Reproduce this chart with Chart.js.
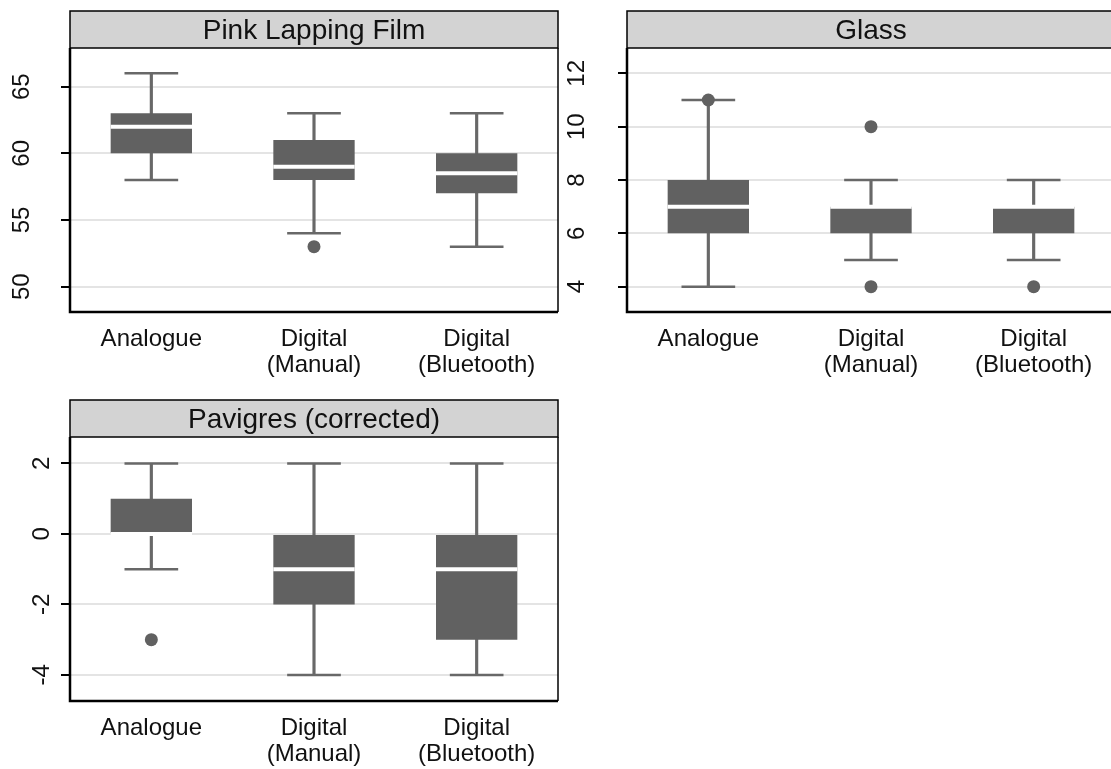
<!DOCTYPE html>
<html>
<head>
<meta charset="utf-8">
<script src="https://cdn.jsdelivr.net/npm/chart.js@4.4.1/dist/chart.umd.min.js"></script>
<style>
  body { margin: 0; background: #fff; width: 1111px; height: 769px; overflow: hidden; position: relative; }
  .panel { position: absolute; }
</style>
</head>
<body>
<div class="panel" style="left:0;top:0"><canvas id="pink"></canvas></div>
<div class="panel" style="left:557px;top:0"><canvas id="glass"></canvas></div>
<div class="panel" style="left:0;top:389px"><canvas id="pavigres"></canvas></div>
<script>
const categories = [['Analogue'], ['Digital', '(Manual)'], ['Digital', '(Bluetooth)']];

// Pink Lapping Film
const pinkLow = [58, 54, 53];
const pinkQ1 = [60, 58, 57];
const pinkMedian = [62, 59, 58.5];
const pinkQ3 = [63, 61, 60];
const pinkHigh = [66, 63, 63];
const pinkOutliers = [[], [53], []];
const pinkTicks = [50, 55, 60, 65];

// Glass
const glassLow = [4, 5, 5];
const glassQ1 = [6, 6, 6];
const glassMedian = [7, 7, 7];
const glassQ3 = [8, 7, 7];
const glassHigh = [11, 8, 8];
const glassOutliers = [[11], [10, 4], [4]];
const glassTicks = [4, 6, 8, 10, 12];

// Pavigres (corrected)
const pavLow = [-1, -4, -4];
const pavQ1 = [0, -2, -3];
const pavMedian = [0, -1, -1];
const pavQ3 = [1, 0, 0];
const pavHigh = [2, 2, 2];
const pavOutliers = [[-3], [], []];
const pavTicks = [-4, -2, 0, 2];

const FONT = '"Liberation Sans", Arial, sans-serif';
const BOX = '#616161';
const WHISKER = '#686868';

// title strip, plot frame, whisker caps and medians
const boxPlot = {
  id: 'boxPlot',
  beforeDraw(chart, args, opts) {
    const { ctx, chartArea: a } = chart;
    ctx.save();
    ctx.fillStyle = '#d3d3d3';
    ctx.fillRect(a.left, a.top - 37, a.right - a.left, 37);
    ctx.strokeStyle = '#000';
    ctx.lineWidth = 1.5;
    ctx.strokeRect(a.left, a.top - 37, a.right - a.left, 37);
    ctx.fillStyle = '#111';
    ctx.font = '28px ' + FONT;
    ctx.textAlign = 'center';
    ctx.textBaseline = 'middle';
    ctx.fillText(opts.title, (a.left + a.right) / 2, a.top - 17);
    ctx.restore();
  },
  beforeDatasetsDraw(chart, args, opts) {
    const { ctx, scales: { x, y } } = chart;
    const step = x.getPixelForValue(1) - x.getPixelForValue(0);
    const half = step * 0.165;
    ctx.save();
    ctx.strokeStyle = WHISKER;
    ctx.lineWidth = 2.5;
    opts.low.forEach((lo, i) => {
      const cx = x.getPixelForValue(i);
      [lo, opts.high[i]].forEach(v => {
        const py = y.getPixelForValue(v);
        ctx.beginPath();
        ctx.moveTo(cx - half, py);
        ctx.lineTo(cx + half, py);
        ctx.stroke();
      });
    });
    ctx.restore();
  },
  afterDatasetDraw(chart, args, opts) {
    if (chart.data.datasets[args.index].role !== 'box') return;
    const { ctx, scales: { y } } = chart;
    ctx.save();
    ctx.strokeStyle = '#fff';
    ctx.lineWidth = 4;
    args.meta.data.forEach((el, i) => {
      const py = y.getPixelForValue(opts.median[i]);
      ctx.beginPath();
      ctx.moveTo(el.x - el.width / 2, py);
      ctx.lineTo(el.x + el.width / 2, py);
      ctx.stroke();
    });
    ctx.restore();
  },
  afterDraw(chart) {
    const { ctx, chartArea: a } = chart;
    ctx.save();
    ctx.strokeStyle = '#000';
    ctx.lineWidth = 1.5;
    ctx.beginPath();
    ctx.moveTo(a.right, a.top);
    ctx.lineTo(a.right, a.bottom);
    ctx.stroke();
    ctx.lineWidth = 2.5;
    ctx.beginPath();
    ctx.moveTo(a.left, a.top);
    ctx.lineTo(a.left, a.bottom);
    ctx.lineTo(a.right, a.bottom);
    ctx.stroke();
    ctx.restore();
  }
};

function makePanel(id, title, low, q1, median, q3, high, outliers, ticks, yMin, yMax, labelPad) {
  const rows = Math.max(...outliers.map(o => o.length));
  const outlierSets = [];
  for (let k = 0; k < rows; k++) {
    outlierSets.push({
      type: 'line',
      data: outliers.map(o => (o[k] === undefined ? null : o[k])),
      showLine: false,
      pointRadius: 6.5,
      pointHoverRadius: 6.5,
      pointBackgroundColor: BOX,
      pointBorderWidth: 0,
      order: 1
    });
  }
  new Chart(document.getElementById(id), {
    type: 'bar',
    data: {
      labels: categories,
      datasets: [
        {
          data: low.map((v, i) => [v, high[i]]),
          backgroundColor: WHISKER,
          barThickness: 2.5,
          grouped: false,
          order: 3
        },
        {
          role: 'box',
          data: q1.map((v, i) => [v, q3[i]]),
          backgroundColor: BOX,
          barPercentage: 0.5,
          categoryPercentage: 1,
          grouped: false,
          borderSkipped: false,
          order: 2
        },
        ...outlierSets
      ]
    },
    options: {
      responsive: false,
      animation: false,
      events: [],
      layout: { padding: { top: 48, right: 7, left: 0, bottom: 0 } },
      plugins: {
        legend: { display: false },
        tooltip: { enabled: false },
        boxPlot: { title, low, high, median }
      },
      scales: {
        x: {
          grid: { display: false },
          border: { display: false },
          ticks: { color: '#111', font: { family: FONT, size: 24, lineHeight: 1.1 }, padding: 6, maxRotation: 0 },
          afterFit: s => { s.height = 78; }
        },
        y: {
          min: yMin,
          max: yMax,
          border: { display: false },
          grid: { color: '#e4e4e4', lineWidth: 2, tickLength: 9, tickColor: '#000', tickWidth: 2 },
          ticks: {
            color: '#111',
            font: { family: FONT, size: 24 },
            minRotation: 90,
            maxRotation: 90,
            crossAlign: 'center',
            padding: labelPad
          },
          afterBuildTicks: s => { s.ticks = ticks.map(v => ({ value: v })); },
          afterFit: s => { s.width = 70; }
        }
      }
    },
    plugins: [boxPlot]
  });
}

const W = 565, H = 390;
['pink', 'glass', 'pavigres'].forEach(id => {
  const c = document.getElementById(id);
  c.width = W; c.height = H;
});

makePanel('pink', 'Pink Lapping Film', pinkLow, pinkQ1, pinkMedian, pinkQ3, pinkHigh, pinkOutliers, pinkTicks, 48.1, 67.9, 25);
makePanel('glass', 'Glass', glassLow, glassQ1, glassMedian, glassQ3, glassHigh, glassOutliers, glassTicks, 3.05, 12.95, 27.5);
makePanel('pavigres', 'Pavigres (corrected)', pavLow, pavQ1, pavMedian, pavQ3, pavHigh, pavOutliers, pavTicks, -4.74, 2.75, 8);
</script>
</body>
</html>
